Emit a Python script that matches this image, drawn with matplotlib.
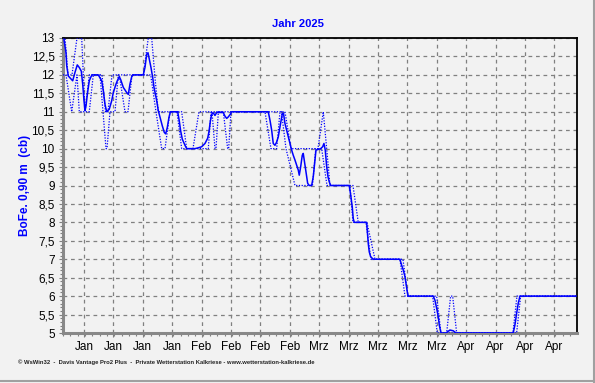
import numpy as np
import matplotlib.pyplot as plt
from matplotlib.ticker import FixedLocator, MultipleLocator
from matplotlib.lines import Line2D

# x = days since 1 Jan 2025
mean_day = [0.24, 0.71, 0.88, 1.26, 1.83, 2.31, 2.86, 3.40, 3.88, 4.36, 4.69, 5.0, 5.24, 5.48, 5.79,
            6.26, 6.67, 6.9, 8.4, 9.21, 9.6, 10.0, 10.4, 11.02, 11.6, 11.98, 12.62, 12.93, 13.4, 13.74,
            14.36, 15.17, 15.55, 15.95, 16.36, 16.67, 19.12, 19.52, 19.93, 20.24, 20.55, 20.95, 21.36,
            21.67, 22.31, 22.69, 23.1, 23.64, 24.12, 24.45, 24.83, 25.24, 25.48, 25.71, 27.31, 27.69,
            28.02, 28.4, 29.05, 29.45, 31.43, 32.14, 33.02, 33.81, 34.45, 34.76, 35.07, 35.4, 35.79,
            36.19, 36.6, 38.17, 38.57, 38.98, 39.36, 39.83, 40.17, 48.88, 49.29, 49.69, 50.07, 50.48,
            50.88, 51.26, 51.67, 52.07, 52.26, 52.5, 52.86, 53.26, 53.64, 54.05, 54.45, 54.83, 55.24,
            55.64, 56.02, 56.26, 56.6, 56.98, 57.21, 57.45, 57.86, 58.26, 58.64, 59.21, 59.6, 59.93,
            60.24, 60.79, 61.36, 61.83, 62.14, 62.45, 62.79, 63.1, 63.4, 63.74, 68.17, 68.57, 68.88,
            69.12, 69.36, 72.31, 72.45, 72.69, 72.93, 73.26, 73.88, 80.24, 80.64, 81.02, 81.43, 81.67,
            81.98, 82.21, 88.17, 88.57, 88.98, 89.36, 89.6, 89.93, 90.17, 91.19, 92.14, 92.93, 93.57,
            107.21, 107.62, 108.02, 108.4, 108.81, 122.14]
mean_val = [12.95, 12.6, 12.25, 11.97, 11.9, 11.84, 12.07, 12.27, 12.2, 12.1, 11.75, 11.3, 11.03, 11.16,
            11.47, 11.84, 11.95, 12.0, 12.0, 11.84, 11.57, 11.2, 11.0, 11.07, 11.3, 11.52, 11.75, 11.84,
            11.95, 11.87, 11.66, 11.52, 11.47, 11.75, 11.95, 12.0, 12.0, 12.2, 12.56, 12.6, 12.43, 12.2,
            11.93, 11.66, 11.3, 11.03, 10.85, 10.62, 10.44, 10.4, 10.57, 10.85, 10.96, 11.0, 11.0, 10.75,
            10.48, 10.26, 10.09, 10.0, 10.0, 10.02, 10.05, 10.14, 10.28, 10.46, 10.73, 10.93, 10.97,
            10.9, 10.98, 10.98, 10.88, 10.82, 10.86, 10.93, 11.0, 11.0, 10.77, 10.5, 10.14, 10.09, 10.18,
            10.32, 10.59, 10.85, 10.96, 10.96, 10.68, 10.5, 10.32, 10.14, 9.96, 9.82, 9.69, 9.55, 9.42,
            9.28, 9.51, 9.82, 9.87, 9.69, 9.37, 9.06, 9.0, 9.0, 9.24, 9.6, 9.96, 9.98, 10.0, 10.05,
            10.14, 9.96, 9.51, 9.24, 9.1, 9.0, 9.0, 8.69, 8.42, 8.1, 8.0, 8.0, 7.79, 7.43, 7.2, 7.07,
            7.0, 7.0, 6.84, 6.71, 6.53, 6.35, 6.12, 6.0, 6.0, 5.89, 5.67, 5.44, 5.22, 5.04, 5.0, 5.0,
            5.08, 5.06, 5.0, 5.0, 5.22, 5.53, 5.8, 6.0, 6.0]

max_day = [0, 0.48, 1.19, 2.14, 3.33, 4.45, 5.24, 6.26, 9.29, 10.12, 10.71, 11.67, 19.12, 20.31, 21.12,
           21.9, 22.69, 28.26, 29.45, 30.95, 32.38, 52.86, 54.29, 60.71, 61.98, 62.79, 63.57, 69.05,
           70.31, 72.38, 74.29, 80.95, 82.14, 88.98, 90.0, 91.36, 92.31, 92.79, 93.74, 107.14, 108.1,
           122.14]
max_val = [13, 13, 12, 12, 13, 13, 11, 12, 12, 11, 11, 12, 12, 13, 13,
           11.93, 11, 11, 10, 10, 11, 11, 10, 10, 11, 10, 9, 9,
           8, 8, 7, 7, 6, 6, 5, 5, 6, 6, 5, 5, 6,
           6]

min_day = [0, 0.71, 2.07, 3.33, 3.88, 6.26, 7.21, 8.81, 10.24, 10.48, 11.19, 12.38, 13.17, 13.4, 14.76,
           15.48, 16.43, 20.88, 22.14, 23.5, 24.29, 25.48, 27.14, 28.26, 34.6, 35.24, 35.48, 36.19,
           36.43, 37.0, 38.17, 39.21, 39.45, 40.0, 48.1, 49.52, 50.88, 51.67, 52.02, 53.1, 55.24,
           59.4, 60.2, 61.6, 62.86, 68.33, 69.05, 72.14, 73.33, 80.24, 81.43, 88.02, 89.12, 108.02,
           108.98, 122.14]
min_val = [12, 12, 11, 12, 11, 11, 12, 12, 10, 10, 11, 11, 12, 12, 11,
           11, 12, 12, 11, 10, 10, 11, 11, 10, 10, 11, 11, 10,
           10, 11, 11, 10, 10, 11, 11, 10, 10, 11, 11, 10, 9,
           9, 10, 10, 9, 9, 8, 8, 7, 7, 6, 6, 5, 5,
           6, 6]

week_pos = [5, 12, 19, 26, 33, 40, 47, 54, 61, 68, 75, 82, 89, 96, 103, 110, 117]
week_lbl = ['Jan'] * 4 + ['Feb'] * 4 + ['Mrz'] * 5 + ['Apr'] * 4
y_ticks = np.arange(5, 13.01, 0.5)
y_lbl = [f'{v:g}'.replace('.', ',') for v in y_ticks]

bg = '#f2f2f2'
blue = '#0000ff'

plt.rcParams['font.family'] = ['Liberation Sans', 'DejaVu Sans']

fig = plt.figure(figsize=(5.95, 3.83), dpi=100, facecolor=bg)
ax = fig.add_axes([63 / 595, 50 / 383, 514 / 595, 295 / 383])
ax.set_facecolor(bg)

ax.plot(min_day, min_val, color=blue, lw=0.9, ls=(0, (1, 1.2)), zorder=3)
ax.plot(max_day, max_val, color=blue, lw=0.9, ls=(0, (1, 1.2)), zorder=3)
ax.plot(mean_day, mean_val, color=blue, lw=1.1, zorder=4)

ax.set_xlim(0, 122.4)
ax.set_ylim(5, 13)
ax.xaxis.set_major_locator(FixedLocator(week_pos))
ax.set_xticklabels(week_lbl)
ax.xaxis.set_minor_locator(MultipleLocator(1.75))
ax.set_yticks(y_ticks)
ax.set_yticklabels(y_lbl)
ax.yaxis.set_minor_locator(MultipleLocator(0.1))

ax.grid(True, which='major', color='#808080', lw=0.9, ls=(0, (3, 3)), zorder=1)
ax.tick_params(which='major', length=3, width=0.8, color='#808080', labelsize=8.5, pad=3)
ax.tick_params(which='minor', length=2, width=0.8, color='#808080')

for s in ['left', 'bottom']:
    ax.spines[s].set_color('#888888')
    ax.spines[s].set_linewidth(2.2)
for s in ['top', 'right']:
    ax.spines[s].set_color('black')
    ax.spines[s].set_linewidth(1.3)

fig.text(0.5, 1 - 24 / 383, 'Jahr 2025', color=blue, fontsize=8, fontweight='bold',
         ha='center', va='center')
fig.text(25 / 595, 1 - 185 / 383, 'BoFe. 0,90 m  (cb)', color=blue, fontsize=8.5, fontweight='bold',
         rotation=90, ha='center', va='center')
fig.text(18 / 595, 1 - 362 / 383,
         '© WsWin32  -  Davis Vantage Pro2 Plus  -  Private Wetterstation Kalkriese - www.wetterstation-kalkriese.de',
         color='#222222', fontsize=4.2, fontweight='bold', ha='left', va='center')

# grey frame at bottom/right edge
fig.add_artist(Line2D([0, 1], [2.5 / 383, 2.5 / 383], transform=fig.transFigure, color='#a0a0a0', lw=1.5))
fig.add_artist(Line2D([593.5 / 595, 593.5 / 595], [0, 1], transform=fig.transFigure, color='#a0a0a0', lw=1.5))

fig.savefig('out.png', dpi=100, facecolor=bg)
